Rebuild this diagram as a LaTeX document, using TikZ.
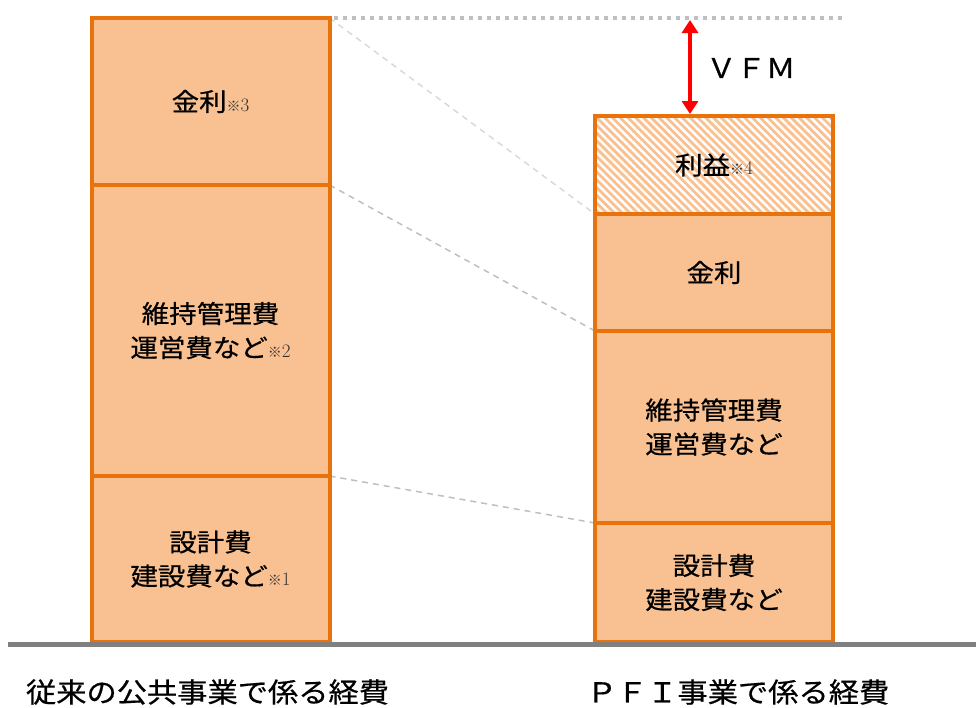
\documentclass[tikz,border=0pt]{standalone}
\usepackage{fontspec}
\setmainfont[FakeStretch=1.1,FakeBold=0.6]{Noto Sans CJK JP}
\newfontfamily\lmserif{Latin Modern Roman}
\newfontfamily\jpplain{Noto Sans CJK JP}
\usetikzlibrary{patterns.meta,backgrounds,arrows.meta}
\definecolor{boxfill}{HTML}{F9C191}
\definecolor{boxline}{HTML}{E8720C}
\definecolor{groundgray}{HTML}{808080}
\definecolor{guide}{HTML}{BFBFBF}
\definecolor{guidelight}{HTML}{D9D9D9}
\newcommand\notemark[1]{{\color{black!80}\fontsize{14}{14}\selectfont\jpplain ※\fontsize{19}{19}\selectfont\lmserif #1}}
\tikzset{
  costbox/.style={draw=boxline, line width=4pt, fill=boxfill, minimum width=238pt, outer sep=0pt, inner sep=0pt, align=center, font=\fontsize{25}{34}\selectfont},
  hatchbox/.style={costbox, fill=none, preaction={fill=boxfill}, pattern={Lines[angle=-45,distance=5.5pt,line width=2.4pt]}, pattern color=white},
  guideline/.style={draw=guide, line width=1.5pt, dash pattern=on 6pt off 5pt},
  caption/.style={font=\fontsize{27.5}{30}\selectfont, inner sep=0pt}
}
\begin{document}
\begin{tikzpicture}[x=1pt,y=-1pt]
\useasboundingbox (0,0) rectangle (976,707);
% left column
\node[costbox, minimum height=167pt] (L3) at (210.5,101.5) {金利\notemark{3}};
\node[costbox, minimum height=291pt] (L2) at (210.5,330.5) {維持管理費\\運営費など\notemark{2}};
\node[costbox, minimum height=166pt] (L1) at (210.5,559) {設計費\\建設費など\notemark{1}};
% right column
\node[hatchbox, minimum height=98pt] (R4) at (714,165) {利益\notemark{4}};
\node[costbox, minimum height=117pt] (R3) at (714,272.5) {金利};
\node[costbox, minimum height=192pt] (R2) at (714,427) {維持管理費\\運営費など};
\node[costbox, minimum height=119pt] (R1) at (714,582.5) {設計費\\建設費など};
% guides
\begin{pgfonlayer}{background}
\draw[guideline, draw=guidelight] (L3.north east) -- (R3.north west);
\draw[guideline] (L2.north east) -- (R2.north west);
\draw[guideline] (L1.north east) -- (R1.north west);
\end{pgfonlayer}
\coordinate (dotend) at (842,18);
\draw[guide, line width=4pt, dash pattern=on 4pt off 5pt] ([xshift=4pt]L3.north east) -- (dotend);
% VFM arrow
\coordinate (vtop) at (690,20);
\coordinate (vbot) at (690,114);
\draw[red, line width=4pt, {Triangle[length=13pt,width=16pt]}-{Triangle[length=13pt,width=16pt]}] (vtop) -- (vbot);
\node[font=\fontsize{27}{30}\selectfont, inner sep=0pt] (vfm) at (751,68) {ＶＦＭ};
% ground line
\coordinate (b0) at (8,644);
\coordinate (b1) at (976,644);
\draw[draw=groundgray, line width=5pt] (b0) -- (b1);
% captions
\node[caption] (capL) at (207.5,692) {従来の公共事業で係る経費};
\node[caption] (capR) at (738,692) {ＰＦＩ事業で係る経費};
\end{tikzpicture}
\end{document}
